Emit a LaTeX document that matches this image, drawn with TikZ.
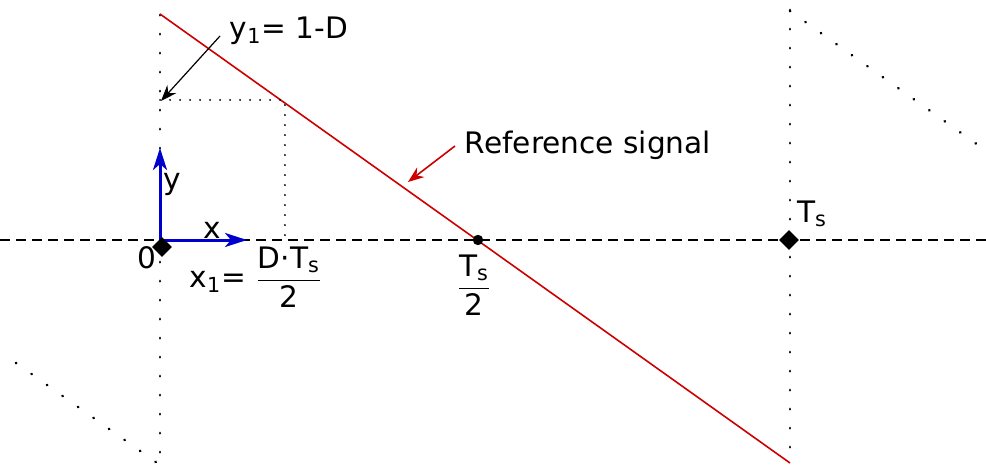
\documentclass[tikz,border=0pt]{standalone}
\usepackage{amsmath}
\usepackage{fontspec}
\setmainfont{DejaVu Sans}
\usetikzlibrary{arrows.meta,shapes.geometric}

\definecolor{sigred}{RGB}{204,0,0}
\definecolor{axblue}{RGB}{0,0,204}

\tikzset{
    axisline/.style={line width=1.1pt, dash pattern=on 5pt off 3pt},
    bigdots/.style={line width=1.4pt, dash pattern=on 0.1pt off 9.4pt, line cap=round},
    smalldots/.style={line width=1pt, dash pattern=on 0.1pt off 4.9pt, line cap=round},
    marker/.style={diamond, fill=black, inner sep=0pt, minimum size=10pt},
    lbl/.style={font=\fontsize{14.8}{17}\selectfont, inner sep=1pt}
}

\begin{document}
\begin{tikzpicture}[x=0.5pt, y=-0.5pt]
    \useasboundingbox (0,0) rectangle (986,466);

    % Eixo horizontal
    \draw[axisline] (0,240) -- (986,240);

    % Pontos de referencia
    \coordinate (o) at (160,240);
    \coordinate (ts) at (790,240);
    \coordinate (half) at (478,240);
    \coordinate (y1) at (160,100);
    \coordinate (x1) at (285,240);
    \coordinate (c1) at (285,100);

    % Limites dos periodos
    \draw[bigdots] (160,15) -- (160,463);
    \draw[bigdots] (790,10) -- (790,463);

    % Periodos vizinhos
    \draw[bigdots] (790,11) -- (978,145);
    \draw[bigdots] (16,363) -- (160,465);

    % Sinal de referencia
    \draw[sigred, line width=0.8pt] (160,14) -- (790,463);

    % Linhas auxiliares
    \draw[smalldots] (y1) -- (c1) -- (x1);

    % Eixos locais
    \draw[axblue, line width=1.5pt, -{Stealth[length=11pt,width=7pt,inset=3pt]}] (o) -- (160,148) node[pos=0.6, right, black, lbl] (ylab) {y};
    \draw[axblue, line width=1.5pt, -{Stealth[length=11pt,width=7pt,inset=3pt]}] (o) -- (247,240) node[pos=0.6, above, black, lbl, inner sep=0pt] (xlab) {x};

    % Marcadores
    \node[marker] (m0) at (162,247) {};
    \node[marker] (mts) at (789,240) {};
    \fill (half) circle (2.6pt);

    % Rotulos
    \node[lbl] (zero) at (147,258) {0};
    \node[lbl] (x1lab) at (256,277) {x\textsubscript{1}= $\dfrac{\text{D·T}_{\text{s}}}{\text{2}}$};
    \node[lbl] (halflab) at (474,285) {$\dfrac{\text{T}_{\text{s}}}{\text{2}}$};
    \node[lbl] (tslab) at (812,214) {T\textsubscript{s}};
    \node[lbl] (y1lab) at (289,31) {y\textsubscript{1}= 1-D};
    \node[lbl] (reflab) at (588,145) {Reference signal};

    % Setas de indicacao
    \coordinate (y1from) at (220,36);
    \coordinate (reffrom) at (455,146);
    \coordinate (refto) at (408,182);
    \draw[line width=0.6pt, -{Stealth[length=8pt,width=6pt]}] (y1from) -- (161,101);
    \draw[sigred, line width=0.8pt, -{Stealth[length=8pt,width=6pt]}] (reffrom) -- (refto);
\end{tikzpicture}
\end{document}
